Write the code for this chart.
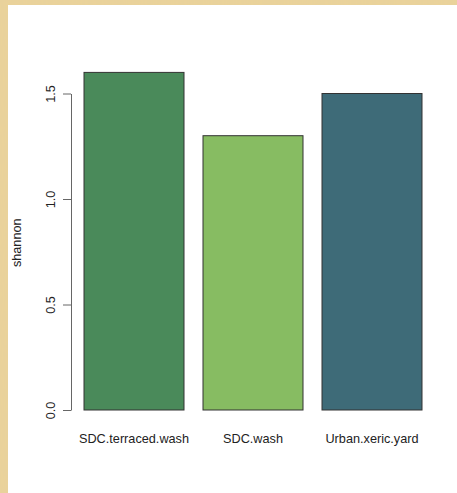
<!DOCTYPE html>
<html>
<head>
<meta charset="utf-8">
<script src="https://cdn.jsdelivr.net/npm/d3@7"></script>
<style>
  html, body { margin: 0; padding: 0; background: #e7cd8f; }
  svg { display: block; }
</style>
</head>
<body>
<div id="chart"></div>
<script>
const sites = ['SDC.terraced.wash', 'SDC.wash', 'Urban.xeric.yard']
const shannon = [1.6, 1.3, 1.5]
const barColors = ['#4a8a5a', '#87bc62', '#3e6b78']
const yTicks = [0.0, 0.5, 1.0, 1.5]

const config = {
    width: 457,
    height: 493,
    fontSize: '12.7px',
    font: 'Liberation Sans, Arial, sans-serif',
}

const svg = d3
    .select('#chart')
    .append('svg')
    .attr('width', config.width)
    .attr('height', config.height)

// parchment-ish background
const defs = svg.append('defs')
const paper = defs.append('filter').attr('id', 'paper')
    .attr('x', 0).attr('y', 0).attr('width', '100%').attr('height', '100%')
paper.append('feTurbulence')
    .attr('type', 'fractalNoise')
    .attr('baseFrequency', '0.9 0.08')
    .attr('numOctaves', 3)
    .attr('seed', 4)
    .attr('result', 'noise')
paper.append('feColorMatrix')
    .attr('in', 'noise')
    .attr('type', 'matrix')
    .attr('values', '0 0 0 0 0.78  0 0 0 0 0.64  0 0 0 0 0.36  0 0 0 0.55 0')
    .attr('result', 'tint')
paper.append('feComposite').attr('in', 'tint').attr('in2', 'SourceGraphic').attr('operator', 'over')

svg.append('rect')
    .attr('width', config.width)
    .attr('height', config.height)
    .attr('fill', '#ebd398')
    .attr('filter', 'url(#paper)')

svg.append('rect')
    .attr('x', 8)
    .attr('y', 5)
    .attr('width', config.width - 8)
    .attr('height', config.height - 5)
    .attr('fill', '#ffffff')

const scaleX = d3
    .scaleBand()
    .domain(sites)
    .range([84, 422])
    .paddingInner(19 / 119)
    .paddingOuter(0)

const scaleY = d3
    .scaleLinear()
    .domain([0, 1.5])
    .range([410, 93.5])

const yAxisCreator = d3
    .axisLeft(scaleY)
    .tickValues(yTicks)
    .tickFormat(d3.format('.1f'))
    .tickSizeOuter(0)
    .tickSizeInner(8)

const yAxisGroup = svg
    .append('g')
    .attr('transform', 'translate(71, 0)')
    .call(yAxisCreator)

yAxisGroup.select('.domain').attr('stroke', '#666')
yAxisGroup.selectAll('.tick line').attr('stroke', '#666')
yAxisGroup.selectAll('.tick text')
    .attr('font-family', config.font)
    .attr('font-size', config.fontSize)
    .attr('fill', '#222')
    .attr('x', null)
    .attr('dy', null)
    .attr('text-anchor', 'middle')
    .attr('transform', 'translate(-20, 0) rotate(-90)')
    .attr('dominant-baseline', 'central')

svg.append('text')
    .attr('transform', `translate(17, ${(93.5 + 410) / 2 - 9}) rotate(-90)`)
    .attr('text-anchor', 'middle')
    .attr('dominant-baseline', 'central')
    .attr('font-family', config.font)
    .attr('font-size', config.fontSize)
    .attr('fill', '#222')
    .text('shannon')

svg.selectAll('rect.bar')
    .data(sites)
    .enter()
    .append('rect')
    .attr('class', 'bar')
    .attr('x', d => scaleX(d))
    .attr('width', scaleX.bandwidth())
    .attr('y', (d, i) => scaleY(shannon[i]))
    .attr('height', (d, i) => scaleY(0) - scaleY(shannon[i]))
    .attr('fill', (d, i) => barColors[i])
    .attr('stroke', '#333')
    .attr('stroke-width', 1)

svg.selectAll('text.site')
    .data(sites)
    .enter()
    .append('text')
    .attr('class', 'site')
    .attr('x', d => scaleX(d) + scaleX.bandwidth() / 2)
    .attr('y', 443)
    .attr('text-anchor', 'middle')
    .attr('font-family', config.font)
    .attr('font-size', config.fontSize)
    .attr('fill', '#222')
    .text(d => d)
</script>
</body>
</html>
